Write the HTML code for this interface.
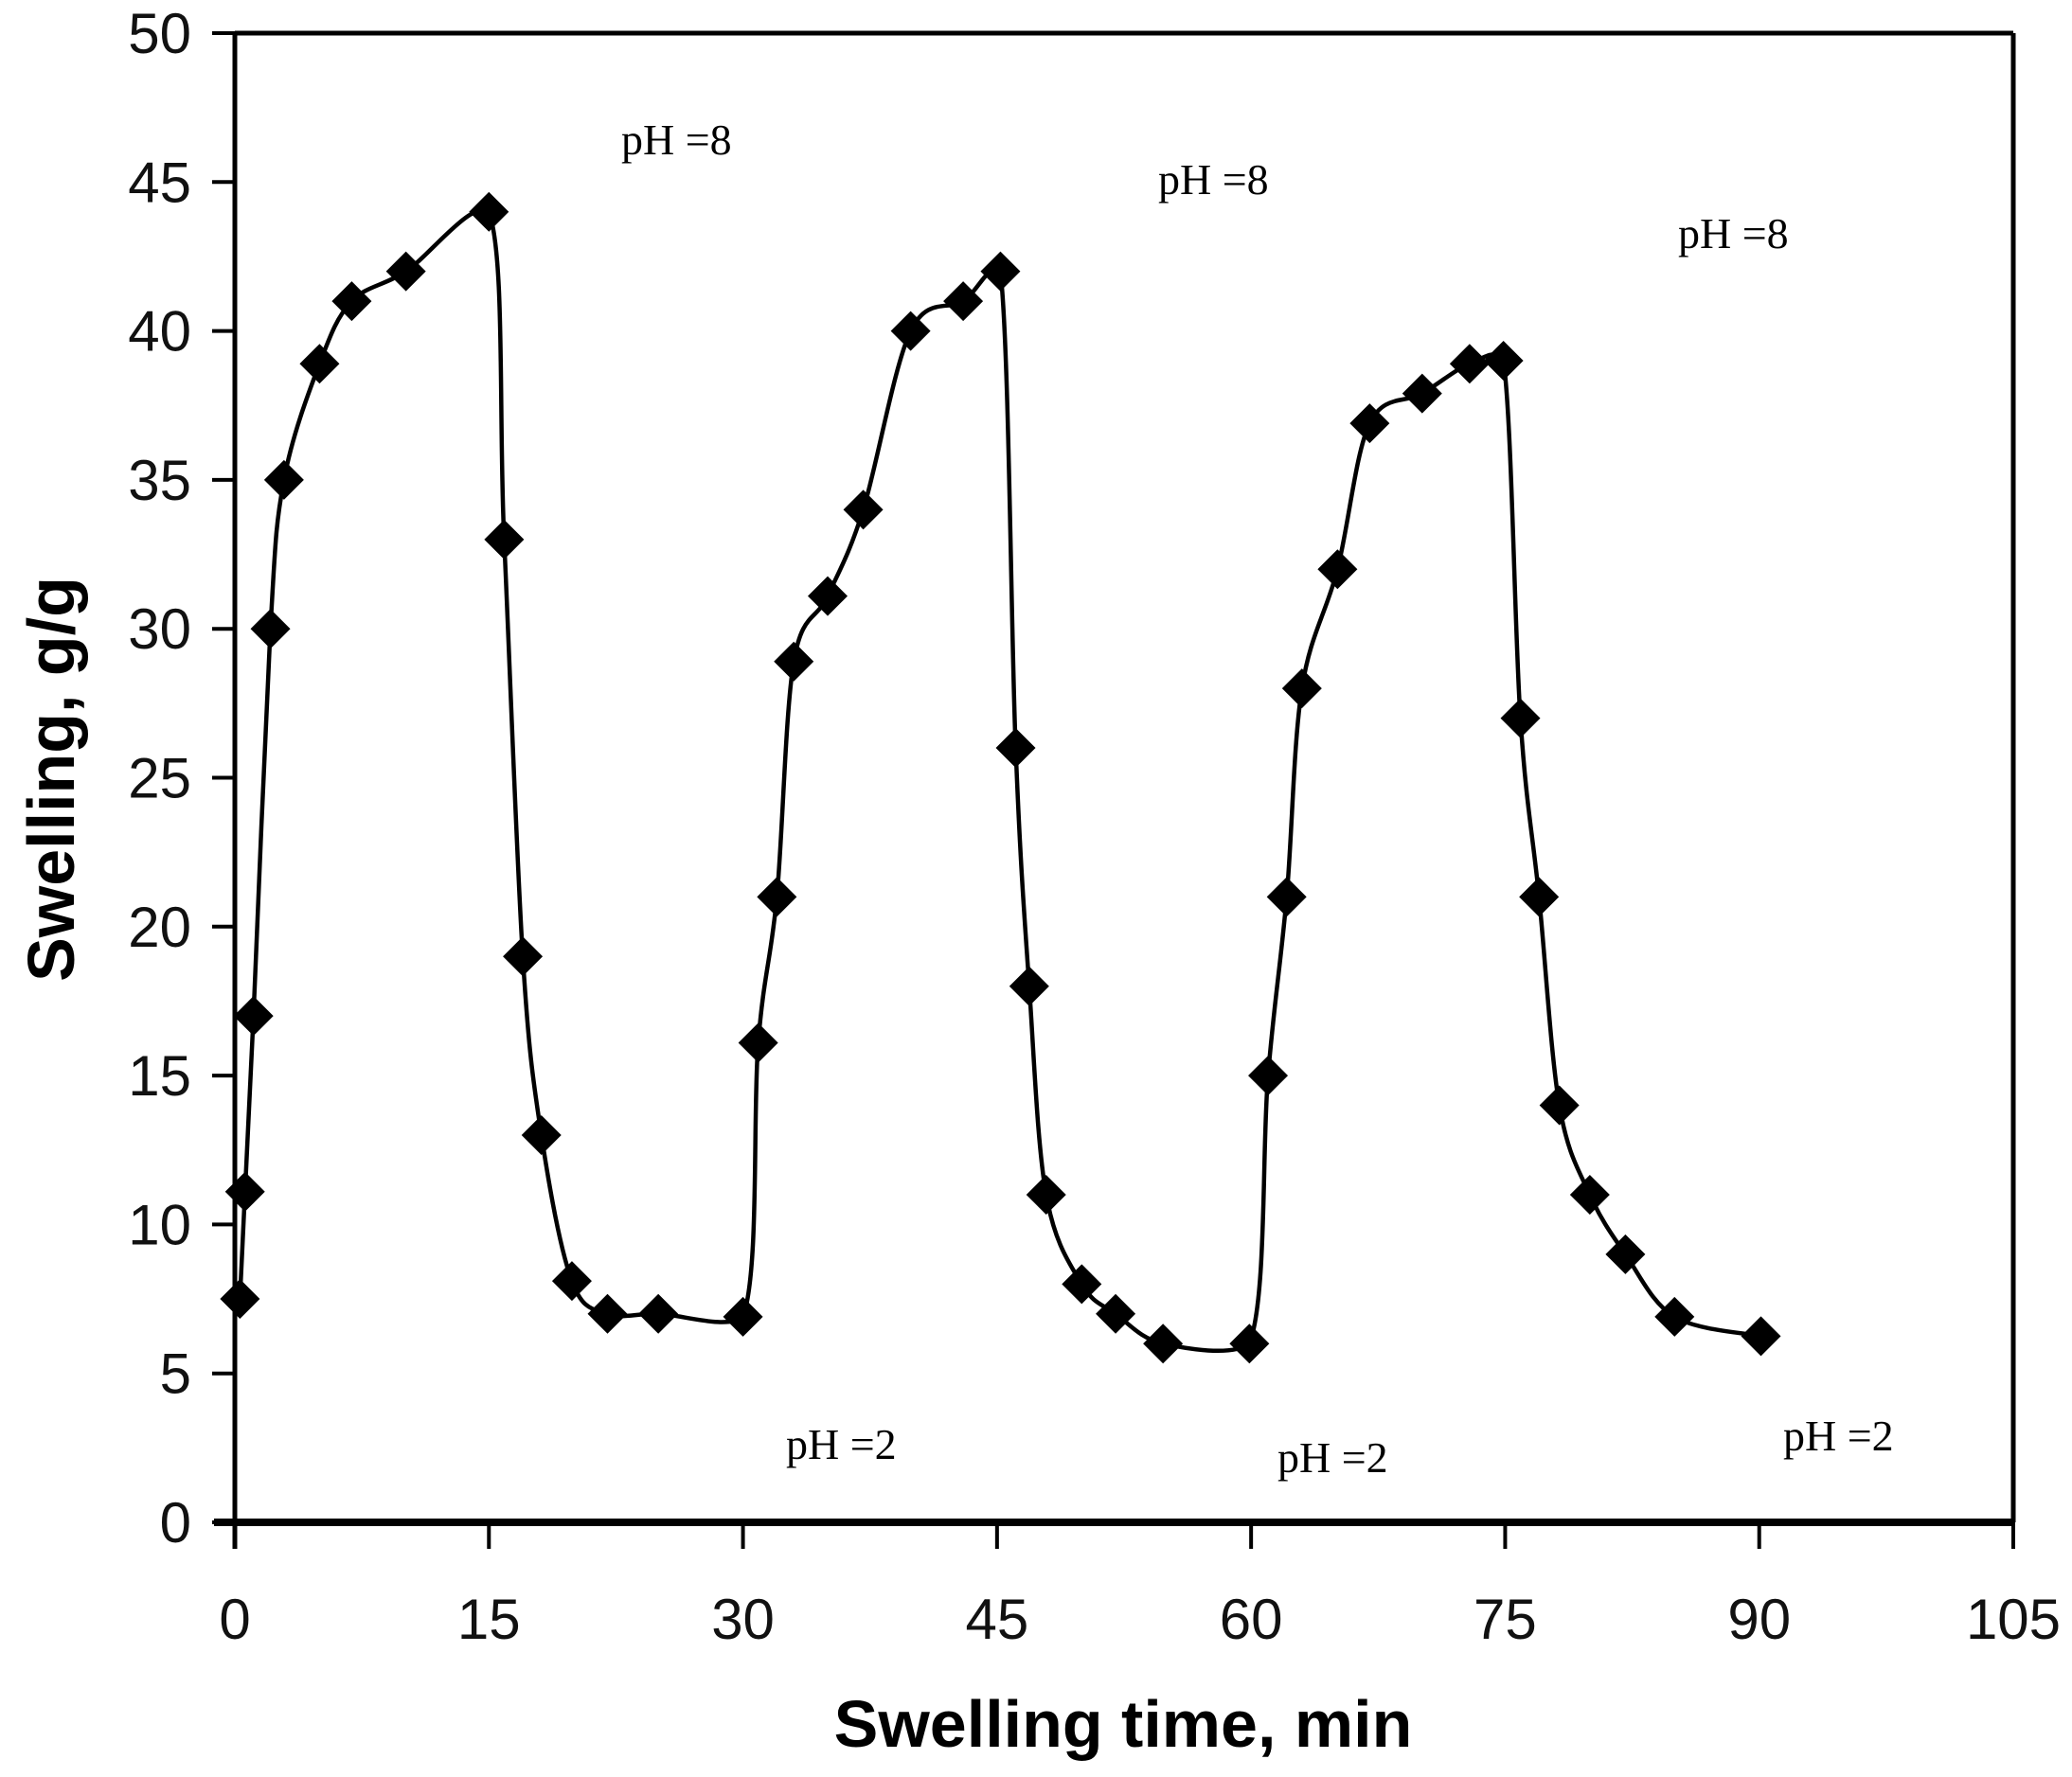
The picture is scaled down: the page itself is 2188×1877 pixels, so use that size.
<!DOCTYPE html>
<html><head><meta charset="utf-8"><style>
html,body{margin:0;padding:0;background:#fff;}
svg{display:block;}
</style></head><body>
<svg id="chart" width="2188" height="1877" viewBox="0 0 2188 1877" xmlns="http://www.w3.org/2000/svg">
<rect width="2188" height="1877" fill="#fff"/>
<g id="plot"></g>
</svg>
<script>
const times = [0.3,0.6,1.1,2.1,2.9,5,6.9,10.1,15,15.9,17,18.1,19.9,22,25,30,30.9,32,33,35,37.1,39.9,43,45.2,46.1,46.9,47.9,50,52,54.8,59.9,61,62.1,63,65.1,67,70.1,72.9,74.9,75.9,77,78.2,80,82.1,85,90.1];
const swelling = [7.5,11.1,17,30,35,38.9,41,42,44,33,19,13,8.1,7,7,6.9,16.1,21,28.9,31.1,34,40,41,42,26,18,11,8,7,6,6,15,21,28,32,36.9,37.9,38.9,39,27,21,14,11,9,6.9,6.25];
const xTicks = [0,15,30,45,60,75,90,105];
const yTicks = [0,5,10,15,20,25,30,35,40,45,50];
const phLabels = ["pH =8","pH =8","pH =8","pH =2","pH =2","pH =2"];

const X0=248, X1=2126, Y0=1608, Y1=35;
const sx = t => X0 + (t-0)/(105-0)*(X1-X0);
const sy = v => Y0 - (v-0)/(50-0)*(Y0-Y1);
const NS="http://www.w3.org/2000/svg";
const g=document.getElementById('plot');
function mk(tag,attrs){const e=document.createElementNS(NS,tag);for(const k in attrs)e.setAttribute(k,attrs[k]);g.appendChild(e);return e;}

let e;
e=mk('line',{x1:X0,y1:Y1,x2:X1,y2:Y1,stroke:'#000','stroke-width':5});


e=mk('line',{x1:X1,y1:Y1,x2:X1,y2:Y0,stroke:'#000','stroke-width':5});


e=mk('line',{x1:X0,y1:Y1-2,x2:X0,y2:Y0+28,stroke:'#000','stroke-width':5});


e=mk('line',{x1:X0-22,y1:Y0,x2:X1,y2:Y0,stroke:'#000','stroke-width':8});



yTicks.forEach(v=>{
  const y=sy(v);
  const t=mk('line',{x1:X0-24,y1:y,x2:X0,y2:y,stroke:'#000','stroke-width':4});
  
  
  const l=mk('text',{x:X0-46,y:y+21,'text-anchor':'end','font-family':'Liberation Sans, sans-serif','font-size':60,fill:'#111'});
  l.textContent=v;
  
  
});
xTicks.forEach(v=>{
  const x=sx(v);
  const t=mk('line',{x1:x,y1:Y0,x2:x,y2:Y0+28,stroke:'#000','stroke-width':4});
  
  
  const l=mk('text',{x:x,y:1731,'text-anchor':'middle','font-family':'Liberation Sans, sans-serif','font-size':60,fill:'#111'});
  l.textContent=v;
  
  
});

e=mk('text',{x:1186,y:1845,'text-anchor':'middle','font-family':'Liberation Sans, sans-serif','font-size':70,'font-weight':'bold',fill:'#000'});
e.textContent='Swelling time, min';


e=mk('text',{x:0,y:0,'text-anchor':'middle','font-family':'Liberation Sans, sans-serif','font-size':70,'font-weight':'bold',fill:'#000',transform:'translate(78,823) rotate(-90)'});
e.textContent='Swelling, g/g';



const pts=times.map((t,i)=>[sx(t),sy(swelling[i])]);
const lim=(v,a,b,m)=>Math.max(Math.min(a,b)-m,Math.min(Math.max(a,b)+m,v));
let d='M'+pts[0][0]+','+pts[0][1];
for(let i=0;i<pts.length-1;i++){
  const p0=pts[Math.max(0,i-1)],p1=pts[i],p2=pts[i+1],p3=pts[Math.min(pts.length-1,i+2)];
  const k=1/6;
  const c1=[p1[0]+(p2[0]-p0[0])*k,lim(p1[1]+(p2[1]-p0[1])*k,p1[1],p2[1],14)];
  const c2=[p2[0]-(p3[0]-p1[0])*k,lim(p2[1]-(p3[1]-p1[1])*k,p1[1],p2[1],14)];
  d+=` C${c1[0]},${c1[1]} ${c2[0]},${c2[1]} ${p2[0]},${p2[1]}`;
}
e=mk('path',{d:d,fill:'none',stroke:'#000','stroke-width':4.5});



pts.forEach(p=>{
  const r=21;
  const m=mk('polygon',{points:`${p[0]},${p[1]-r} ${p[0]+r},${p[1]} ${p[0]},${p[1]+r} ${p[0]-r},${p[1]}`,fill:'#000'});
  
  
});

const phPos=[[656,163],[1223,205],[1772,262],[830,1541],[1349,1555],[1883,1532]];
phLabels.forEach((s,i)=>{
  const t=mk('text',{x:phPos[i][0],y:phPos[i][1],'font-family':'Liberation Serif, serif','font-size':46,fill:'#000'});
  t.textContent=s;
  
  
});
</script>
</body></html>
